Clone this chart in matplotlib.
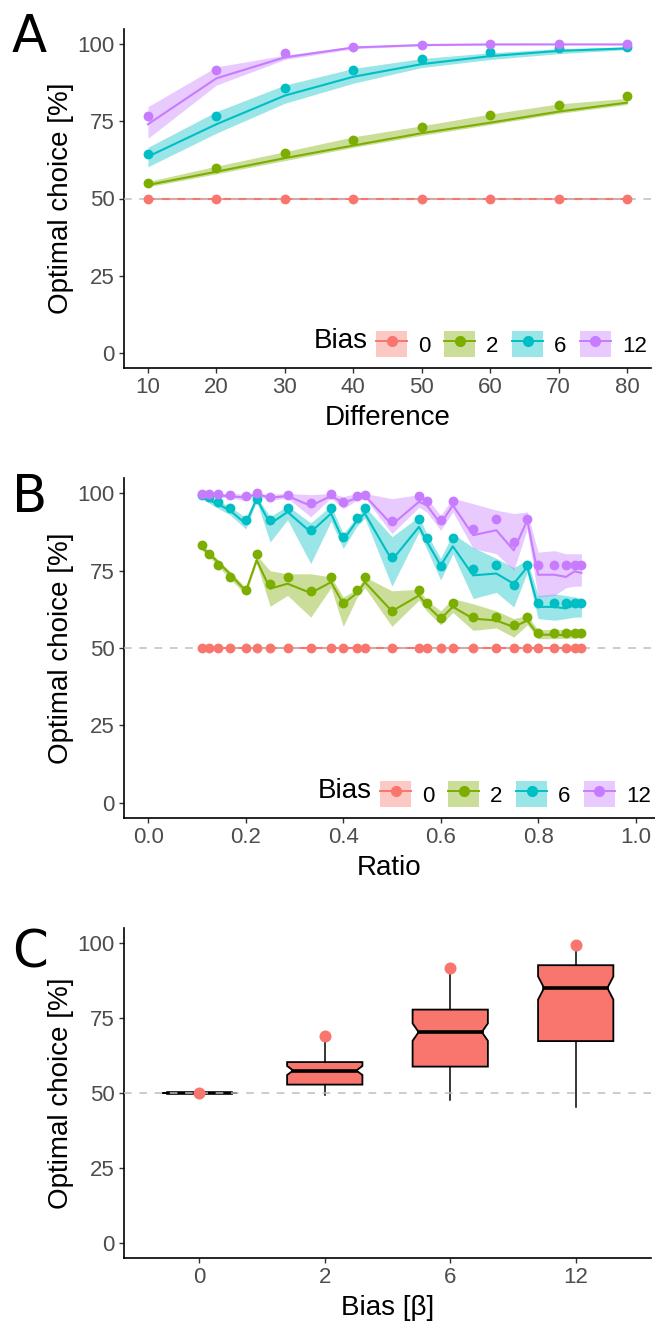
import numpy as np
import matplotlib.pyplot as plt
from matplotlib.patches import Patch, Polygon
from matplotlib.lines import Line2D

plt.rcParams['font.family'] = ['Liberation Sans', 'DejaVu Sans']

# ---- shared ----
bias_labels = ['0', '2', '6', '12']
bias_colors = ['#F8766D', '#7CAE00', '#00BFC4', '#C77CFF']

# ---- panel A: optimal choice by difference ----
difference = [10, 20, 30, 40, 50, 60, 70, 80]
a_points = {
    '0': [50, 50, 50, 50, 50, 50, 50, 50],
    '2': [55.1, 60.0, 64.7, 69.1, 73.2, 77.0, 80.3, 83.4],
    '6': [64.6, 76.9, 85.8, 91.8, 95.3, 97.4, 98.9, 99.2],
    '12': [76.9, 91.6, 97.3, 99.3, 99.9, 100, 100, 100],
}
a_line = {
    '0': [50, 50, 50, 50, 50, 50, 50, 50],
    '2': [54.4, 58.7, 63.1, 67.2, 71.2, 74.6, 78.2, 81.1],
    '6': [63.6, 74.1, 83.4, 89.5, 93.6, 96.2, 97.9, 98.7],
    '12': [74.1, 89.0, 95.8, 99.0, 99.8, 100, 100, 100],
}
a_low = {
    '0': [50, 50, 50, 50, 50, 50, 50, 50],
    '2': [53.8, 58.0, 62.3, 66.6, 70.5, 74.0, 77.6, 80.5],
    '6': [60.3, 71.2, 80.9, 87.4, 92.5, 95.1, 97.0, 98.3],
    '12': [69.5, 86.8, 95.1, 98.6, 99.5, 99.8, 99.9, 99.9],
}
a_high = {
    '0': [50, 50, 50, 50, 50, 50, 50, 50],
    '2': [55.5, 60.5, 65.2, 70.0, 73.6, 77.4, 80.7, 82.5],
    '6': [66.6, 78.2, 86.8, 92.2, 95.4, 97.3, 98.6, 99.2],
    '12': [79.8, 92.7, 96.5, 99.4, 100, 100.1, 100.1, 100.1],
}

# ---- panel B: optimal choice by ratio ----
ratio = [1/9, 1/8, 1/7, 1/6, 1/5, 2/9, 1/4, 2/7, 1/3, 3/8, 2/5, 3/7, 4/9, 1/2,
         5/9, 4/7, 3/5, 5/8, 2/3, 5/7, 3/4, 7/9, 4/5, 5/6, 6/7, 7/8, 8/9]
b_points = {
    '0': [50] * 27,
    '2': [83.2, 80.3, 76.7, 73.0, 68.9, 80.3, 70.6, 73.0, 68.4, 73.0, 64.5, 68.9, 73.0, 62.1,
          68.9, 64.5, 59.8, 64.5, 60.0, 60.0, 57.5, 60.0, 54.8, 54.8, 54.8, 54.8, 54.8],
    '6': [99.4, 98.9, 97.2, 95.3, 91.5, 98.3, 91.3, 95.3, 88.3, 95.3, 85.9, 91.9, 95.3, 79.5,
          91.6, 85.7, 76.5, 85.7, 75.7, 76.7, 70.3, 76.7, 64.5, 64.5, 64.5, 64.5, 64.5],
    '12': [99.8, 99.7, 99.9, 99.6, 99.2, 100, 98.9, 99.6, 96.9, 99.7, 97.2, 99.1, 99.6, 91.0,
           99.2, 97.5, 91.3, 97.5, 88.5, 91.6, 84.3, 91.6, 76.8, 76.8, 76.8, 76.8, 76.8],
}
b_line = {
    '0': [50] * 27,
    '2': [82.2, 80.5, 77.8, 74.1, 68.4, 78.4, 69.2, 70.8, 67.8, 71.3, 64.3, 67.8, 71.3, 61.9,
          67.0, 63.8, 59.5, 63.3, 59.5, 58.9, 56.8, 58.9, 54.3, 54.3, 54.1, 54.4, 54.4],
    '6': [98.9, 97.8, 96.5, 94.6, 90.2, 98.3, 90.2, 94.0, 87.5, 93.5, 84.8, 91.3, 93.5, 78.4,
          89.2, 84.5, 76.7, 82.9, 73.5, 74.1, 70.8, 76.2, 63.3, 63.3, 62.8, 63.9, 63.6],
    '12': [99.6, 99.5, 99.4, 99.1, 98.7, 99.8, 98.6, 99.2, 96.0, 99.2, 97.0, 98.5, 99.3, 89.9,
           97.3, 96.2, 90.2, 96.2, 86.5, 88.1, 81.6, 91.3, 73.7, 73.7, 73.0, 74.8, 74.3],
}
b_low = {
    '0': [50] * 27,
    '2': [81.5, 79.5, 76.5, 72.5, 67.3, 77.5, 63.5, 67.0, 60.0, 69.5, 57.0, 66.5, 69.5, 57.0,
          65.5, 62.0, 57.5, 61.5, 55.7, 56.5, 53.5, 57.5, 53.0, 53.0, 53.2, 53.2, 53.2],
    '6': [98.2, 96.8, 95.2, 93.2, 88.5, 97.5, 84.3, 91.5, 77.3, 91.0, 82.2, 89.5, 92.0, 70.0,
          87.5, 82.0, 72.0, 80.5, 66.0, 68.0, 63.3, 74.5, 59.5, 59.0, 59.5, 60.0, 60.0],
    '12': [99.3, 99.1, 98.9, 98.5, 97.8, 99.4, 97.8, 98.5, 92.4, 98.6, 95.1, 97.8, 98.6, 87.0,
           95.5, 94.0, 88.1, 94.0, 82.2, 80.5, 75.1, 88.5, 66.5, 67.0, 69.5, 70.0, 70.0],
}
b_high = {
    '0': [50] * 27,
    '2': [83.0, 81.5, 78.5, 75.0, 69.5, 80.0, 75.0, 74.0, 74.0, 73.0, 66.5, 69.0, 73.0, 68.5,
          69.0, 65.5, 62.0, 66.0, 64.3, 62.0, 59.5, 60.5, 55.9, 56.0, 56.0, 56.0, 56.0],
    '6': [99.5, 98.8, 97.6, 95.8, 92.2, 99.0, 92.5, 96.0, 90.5, 96.0, 87.0, 92.5, 95.8, 86.0,
          92.5, 87.0, 79.0, 87.0, 82.5, 79.0, 76.0, 78.5, 67.0, 67.5, 67.0, 66.5, 66.0],
    '12': [100, 100, 100, 100, 99.8, 100, 99.8, 100, 99.6, 100, 99.0, 100, 100, 98.3,
           99.6, 98.5, 92.9, 98.5, 96.7, 94.6, 93.5, 94.0, 81.0, 81.5, 80.5, 80.5, 80.5],
}

# ---- panel C: boxplot summary per bias ----
c_q1 = [50, 52.8, 58.8, 67.3]
c_med = [50, 57.5, 70.3, 85.0]
c_q3 = [50, 60.3, 77.8, 92.6]
c_wlo = [50, 49.3, 47.7, 45.2]
c_whi = [50, 66.9, 89.8, 97.8]
c_notch = [0, 1.5, 2.9, 3.85]
c_outlier = [50, 69.1, 91.8, 99.2]

W, H = 655, 1327
fig = plt.figure(figsize=(W / 100, H / 100), dpi=100)


def px_axes(left, top, right, bottom):
    return fig.add_axes([left / W, 1 - bottom / H, (right - left) / W, (bottom - top) / H])


def style(ax):
    for s in ['top', 'right']:
        ax.spines[s].set_visible(False)
    for s in ['left', 'bottom']:
        ax.spines[s].set_linewidth(1.2)
    ax.tick_params(axis='both', length=3.5, width=1.0, color='#333333',
                   labelcolor='#4D4D4D', labelsize=16, pad=3)
    ax.set_ylim(-5, 105)
    ax.set_yticks([0, 25, 50, 75, 100])
    ax.set_ylabel('Optimal choice [%]', fontsize=20, labelpad=3)


def add_legend(ax, ax_w, ax_h):
    handles = [(Patch(facecolor=c, alpha=0.4, edgecolor='none'),
                Line2D([], [], color=c, lw=1.4, marker='o', ms=7)) for c in bias_colors]
    ax.legend(handles, bias_labels, ncol=4, loc='lower right',
              bbox_to_anchor=(1 - 4 / ax_w, 11 / ax_h), frameon=False, fontsize=16,
              handlelength=1.4, handleheight=1.4, handletextpad=0.5,
              columnspacing=0.6, borderpad=0, borderaxespad=0)
    ax.text(1 - 283 / ax_w, 27 / ax_h, 'Bias', transform=ax.transAxes,
            ha='right', va='center', fontsize=20)


def draw_series(ax, x, points, line, low, high):
    for lab, col in zip(bias_labels, bias_colors):
        ax.fill_between(x, low[lab], high[lab], color=col, alpha=0.4, lw=0, zorder=1)
        ax.plot(x, line[lab], color=col, lw=1.5, zorder=2)
    ax.axhline(50, color='#BEBEBE', lw=1.1, ls=(0, (5, 5)), zorder=3)
    for lab, col in zip(bias_labels, bias_colors):
        ax.scatter(x, points[lab], s=50, color=col, lw=0, zorder=4)


# Panel A
axA = px_axes(124, 29, 651, 368)
draw_series(axA, difference, a_points, a_line, a_low, a_high)
style(axA)
axA.set_xlim(6.5, 83.5)
axA.set_xticks(difference)
axA.set_xlabel('Difference', fontsize=20, labelpad=5)
add_legend(axA, 527, 339)
fig.text(12 / W, 1 - 52 / H, 'A', fontsize=37, family='DejaVu Sans', va='baseline')

# Panel B
axB = px_axes(124, 478, 655, 818)
draw_series(axB, ratio, b_points, b_line, b_low, b_high)
style(axB)
axB.set_xlim(-0.05, 1.04)
axB.set_xticks([0, 0.2, 0.4, 0.6, 0.8, 1.0])
axB.set_xticklabels(['0.0', '0.2', '0.4', '0.6', '0.8', '1.0'])
axB.set_xlabel('Ratio', fontsize=20, labelpad=5)
add_legend(axB, 531, 340)
fig.text(12 / W, 1 - 512 / H, 'B', fontsize=37, family='DejaVu Sans', va='baseline')

# Panel C
axC = px_axes(124, 928, 651, 1258)
box_w = 0.6
ind = 0.08 * box_w
for i in range(len(bias_labels)):
    l, r = i - box_w / 2, i + box_w / 2
    axC.plot([i, i], [c_wlo[i], c_q1[i]], color='black', lw=1.1, zorder=2)
    axC.plot([i, i], [c_q3[i], c_whi[i]], color='black', lw=1.1, zorder=2)
    verts = [(l, c_q1[i]), (l, c_med[i] - c_notch[i]), (l + ind, c_med[i]),
             (l, c_med[i] + c_notch[i]), (l, c_q3[i]), (r, c_q3[i]),
             (r, c_med[i] + c_notch[i]), (r - ind, c_med[i]),
             (r, c_med[i] - c_notch[i]), (r, c_q1[i])]
    axC.add_patch(Polygon(verts, closed=True, facecolor='#F8766D',
                          edgecolor='black', lw=1.3, zorder=2))
    axC.plot([l + ind, r - ind], [c_med[i], c_med[i]], color='black', lw=2.6, zorder=2)
axC.axhline(50, color='#BEBEBE', lw=1.1, ls=(0, (5, 5)), zorder=3)
axC.scatter(range(len(bias_labels)), c_outlier, s=75, color='#F8766D', lw=0, zorder=4)
style(axC)
axC.set_xlim(-0.6, 3.6)
axC.set_xticks(range(len(bias_labels)))
axC.set_xticklabels(bias_labels)
axC.set_xlabel('Bias [β]', fontsize=20, labelpad=5)
fig.text(12 / W, 1 - 968 / H, 'C', fontsize=37, family='DejaVu Sans', va='baseline')

fig.savefig('out.png', dpi=100)
